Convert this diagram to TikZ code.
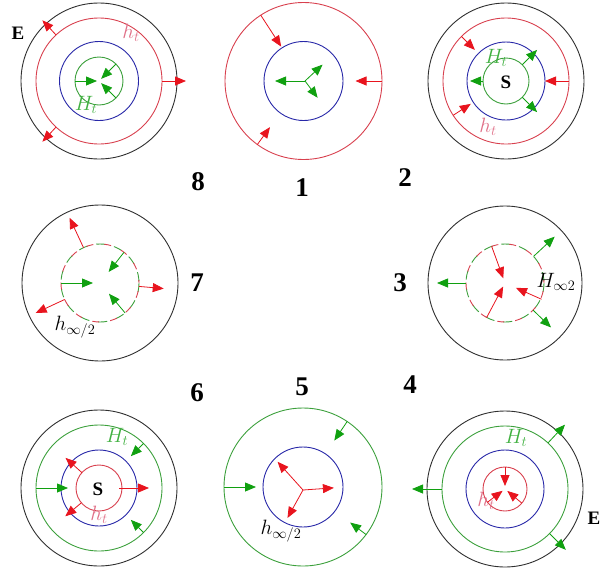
\documentclass[tikz,border=0pt]{standalone}
\usepackage{fontspec}
\setmainfont{Liberation Serif}
\usetikzlibrary{arrows.meta,calc}
\definecolor{cblk}{HTML}{303030}
\definecolor{cred}{HTML}{D8404E}
\definecolor{ared}{HTML}{E8141E}
\definecolor{cblue}{HTML}{2828A8}
\definecolor{cgreen}{HTML}{3CA03C}
\definecolor{agreen}{HTML}{10A010}
\definecolor{lpink}{HTML}{E07088}
\definecolor{lgreen}{HTML}{40B040}
\newcommand\radarr[5]{\draw[#1] ($(#2)+(#3:#4)$) -- ($(#2)+(#3:#5)$);}
\begin{document}
\begin{tikzpicture}[x=1pt,y=-1pt,
  ring/.style={line width=0.9pt},
  blkring/.style={ring,draw=cblk},
  redring/.style={ring,draw=cred},
  bluering/.style={ring,draw=cblue},
  greenring/.style={ring,draw=cgreen},
  rarr/.style={draw=ared,line width=0.8pt,-{Triangle[length=11pt,width=9pt]}},
  garr/.style={draw=agreen,line width=0.8pt,-{Triangle[length=11pt,width=9pt]}},
  num/.style={font=\fontsize{27}{30}\selectfont\bfseries},
  bold/.style={font=\fontsize{19}{22}\selectfont\bfseries},
  lab/.style={font=\fontsize{20}{24}\selectfont, inner sep=0pt}]
\useasboundingbox (0,0) rectangle (600,571);
% ---------- panel 8 (top-left)
\coordinate (c8) at (99,81);
\draw[blkring] (c8) circle[radius=78];
\draw[redring] (c8) circle[radius=63];
\draw[bluering] (c8) circle[radius=39.5];
\draw[greenring] (c8) circle[radius=24];
\radarr{rarr}{c8}{0}{63}{87}
\radarr{rarr}{c8}{-133}{63}{83}
\radarr{rarr}{c8}{133}{63}{83}
\radarr{garr}{c8}{180}{24}{2}
\radarr{garr}{c8}{-45}{24}{3}
\radarr{garr}{c8}{45}{24}{3}
\node[bold] (e8) at (18,33) {E};
\node[lab,text=lpink] (h8) at (131,33) {$h_t$};
\node[lab,text=lgreen] (H8) at (86,105) {$H_t$};
% ---------- panel 1 (top-middle)
\coordinate (c1) at (303.5,81);
\coordinate (j1) at (305,81);
\draw[redring] (c1) circle[radius=78.5];
\draw[bluering] (c1) circle[radius=39.5];
\radarr{rarr}{c1}{-123}{78.5}{41}
\radarr{rarr}{c1}{0}{78.5}{52}
\radarr{rarr}{c1}{126}{78.5}{57}
\radarr{garr}{j1}{180}{0}{30}
\radarr{garr}{j1}{-43}{0}{24}
\radarr{garr}{j1}{53}{0}{21}
% ---------- panel 2 (top-right)
\coordinate (c2) at (506,81);
\draw[blkring] (c2) circle[radius=78];
\draw[redring] (c2) circle[radius=63];
\draw[bluering] (c2) circle[radius=39];
\draw[greenring] (c2) circle[radius=23];
\radarr{rarr}{c2}{-135}{63}{44}
\radarr{rarr}{c2}{0}{63}{39}
\radarr{rarr}{c2}{147}{63}{42}
\radarr{garr}{c2}{180}{23}{36}
\radarr{garr}{c2}{-45}{23}{44}
\radarr{garr}{c2}{45}{23}{44}
\node[bold] (s2) at (506,82) {S};
\node[lab,text=lgreen] (H2) at (496,58) {$H_t$};
\node[lab,text=lpink] (h2) at (488,127) {$h_t$};
% ---------- panel 7 (middle-left)
\coordinate (c7) at (100,283);
\draw[blkring] (c7) circle[radius=78];
\draw[ring,draw=cgreen,dash pattern=on 9pt off 9pt] (c7) circle[radius=39];
\draw[ring,draw=cred,dash pattern=on 7pt off 11pt,dash phase=10pt] (c7) circle[radius=39];
\radarr{rarr}{c7}{-115}{39}{72}
\radarr{rarr}{c7}{5}{39}{64}
\radarr{rarr}{c7}{155}{39}{71}
\radarr{garr}{c7}{180}{39}{7}
\radarr{garr}{c7}{-52}{39}{14}
\radarr{garr}{c7}{50}{39}{14}
\node[lab] (h7) at (75,327) {$h_{\infty/2}$};
% ---------- panel 3 (middle-right)
\coordinate (c3) at (505,283);
\draw[blkring] (c3) circle[radius=77];
\draw[ring,draw=cgreen,dash pattern=on 9pt off 9pt] (c3) circle[radius=39];
\draw[ring,draw=cred,dash pattern=on 7pt off 11pt,dash phase=10pt] (c3) circle[radius=39];
\radarr{rarr}{c3}{-110}{39}{5}
\radarr{rarr}{c3}{118}{39}{4}
\radarr{rarr}{c3}{24}{40}{12}
\radarr{garr}{c3}{180}{39}{68}
\radarr{garr}{c3}{-43}{39}{68}
\radarr{garr}{c3}{44}{39}{64}
\node[lab] (H3) at (556,282) {$H_{\infty 2}$};
% ---------- panel 6 (bottom-left)
\coordinate (c6) at (99,488);
\draw[blkring] (c6) circle[radius=78];
\draw[greenring] (c6) circle[radius=63];
\draw[bluering] (c6) circle[radius=38];
\draw[redring] (c6) circle[radius=23];
\radarr{garr}{c6}{180}{63}{31}
\radarr{garr}{c6}{-45}{63}{45}
\radarr{garr}{c6}{45}{63}{45}
\radarr{rarr}{c6}{0}{20}{50}
\radarr{rarr}{c6}{-138}{23}{45}
\radarr{rarr}{c6}{140}{23}{44}
\node[bold] (s6) at (98,489) {S};
\node[lab,text=lgreen] (H6) at (117,437) {$H_t$};
\node[lab,text=lpink] (h6) at (99,515) {$h_t$};
% ---------- panel 5 (bottom-middle)
\coordinate (c5) at (303,487);
\coordinate (j5) at (303,490);
\draw[greenring] (c5) circle[radius=79];
\draw[bluering] (c5) circle[radius=40];
\radarr{rarr}{j5}{-132}{0}{38}
\radarr{rarr}{j5}{-4}{0}{31}
\radarr{rarr}{j5}{119}{0}{32}
\radarr{garr}{c5}{180}{79}{47}
\radarr{garr}{c5}{-56}{79}{56}
\radarr{garr}{c5}{37}{79}{59}
\node[lab] (h5) at (281,531) {$h_{\infty/2}$};
% ---------- panel 4 (bottom-right)
\coordinate (c4) at (505,489);
\draw[blkring] (c4) circle[radius=78];
\draw[greenring] (c4) circle[radius=63];
\draw[bluering] (c4) circle[radius=39];
\draw[redring] (c4) circle[radius=22];
\radarr{garr}{c4}{180}{63}{93}
\radarr{garr}{c4}{-47}{63}{88}
\radarr{garr}{c4}{45}{63}{86}
\radarr{rarr}{c4}{-90}{22}{3}
\radarr{rarr}{c4}{143}{22}{3}
\radarr{rarr}{c4}{40}{22}{3}
\node[lab,text=lgreen] (H4) at (516,438) {$H_t$};
\node[lab,text=lpink] (h4) at (486,501) {$h_t$};
\node[bold] (e4) at (594,518) {E};
% ---------- numbers
\node[num] (n8) at (198,182) {8};
\node[num] (n1) at (302,188) {1};
\node[num] (n2) at (405,178) {2};
\node[num] (n7) at (197,283) {7};
\node[num] (n3) at (400,283) {3};
\node[num] (n6) at (197,393) {6};
\node[num] (n5) at (302,387) {5};
\node[num] (n4) at (410,385) {4};
\end{tikzpicture}
\end{document}
